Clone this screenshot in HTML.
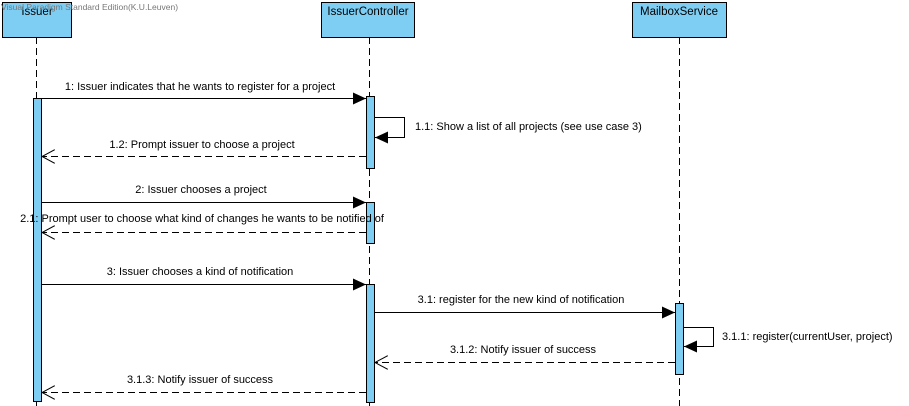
<!DOCTYPE html>
<html><head><meta charset="utf-8"><style>
html,body{margin:0;padding:0;background:#fff;}
svg{display:block;font-family:"Liberation Sans",Arial,sans-serif;font-size:11px;}
</style></head><body>
<svg width="909" height="406" viewBox="0 0 909 406" xmlns="http://www.w3.org/2000/svg">
<defs>
<marker id="f" markerWidth="14" markerHeight="12" refX="13" refY="6" orient="auto" markerUnits="userSpaceOnUse"><path d="M0,0 L13,6 L0,12 z" fill="#000"/></marker>
<marker id="o" markerWidth="14" markerHeight="14" refX="13" refY="7" orient="auto" markerUnits="userSpaceOnUse"><path d="M0,0 L13,7 L0,14" fill="none" stroke="#000" stroke-width="1"/></marker>
</defs>
<g stroke="#000" stroke-width="1" stroke-dasharray="7,4">
<line x1="36.5" y1="37" x2="36.5" y2="406"/>
<line x1="369.5" y1="37" x2="369.5" y2="406"/>
<line x1="679.5" y1="37" x2="679.5" y2="406"/>
</g>
<g fill="#7ecef4" stroke="#000" stroke-width="1">
<rect x="2.5" y="2.5" width="69" height="35"/>
<rect x="321.5" y="2.5" width="93" height="35"/>
<rect x="632.5" y="2.5" width="94" height="35"/>
<rect x="33.5" y="98.5" width="8" height="303"/>
<rect x="366.5" y="96.5" width="8" height="72"/>
<rect x="366.5" y="202.5" width="8" height="41"/>
<rect x="366.5" y="284.5" width="8" height="118"/>
<rect x="675.5" y="303.5" width="8" height="71"/>
</g>
<g fill="#000" text-anchor="middle" font-size="11.5">
<text x="37" y="15">Issuer</text>
<text x="368" y="15">IssuerController</text>
<text x="679" y="15">MailboxService</text>
</g>
<text x="1" y="10" font-size="8.5" fill="#777">Visual Paradigm Standard Edition(K.U.Leuven)</text>
<g stroke="#000" stroke-width="1" fill="none">
<line x1="41" y1="98.5" x2="366" y2="98.5" marker-end="url(#f)"/>
<polyline points="374,117.5 404.5,117.5 404.5,137.5 375,137.5" marker-end="url(#f)"/>
<line x1="366" y1="156.5" x2="42" y2="156.5" stroke-dasharray="7,4" marker-end="url(#o)"/>
<line x1="41" y1="202.5" x2="366" y2="202.5" marker-end="url(#f)"/>
<line x1="366" y1="232.5" x2="42" y2="232.5" stroke-dasharray="7,4" marker-end="url(#o)"/>
<line x1="41" y1="284.5" x2="366" y2="284.5" marker-end="url(#f)"/>
<line x1="374" y1="312.5" x2="675" y2="312.5" marker-end="url(#f)"/>
<polyline points="683,327.5 713.5,327.5 713.5,346.5 684,346.5" marker-end="url(#f)"/>
<line x1="675" y1="362.5" x2="375" y2="362.5" stroke-dasharray="7,4" marker-end="url(#o)"/>
<line x1="366" y1="392.5" x2="42" y2="392.5" stroke-dasharray="7,4" marker-end="url(#o)"/>
</g>
<g fill="#000">
<text x="200" y="90" text-anchor="middle">1: Issuer indicates that he wants to register for a project</text>
<text x="415" y="130">1.1: Show a list of all projects (see use case 3)</text>
<text x="202" y="148" text-anchor="middle">1.2: Prompt issuer to choose a project</text>
<text x="201" y="193" text-anchor="middle">2: Issuer chooses a project</text>
<text x="202" y="222" text-anchor="middle">2.1: Prompt user to choose what kind of changes he wants to be notified of</text>
<text x="200" y="275" text-anchor="middle">3: Issuer chooses a kind of notification</text>
<text x="521" y="303" text-anchor="middle">3.1: register for the new kind of notification</text>
<text x="722" y="340">3.1.1: register(currentUser, project)</text>
<text x="523" y="353" text-anchor="middle">3.1.2: Notify issuer of success</text>
<text x="200" y="383" text-anchor="middle">3.1.3: Notify issuer of success</text>
</g>
</svg>
</body></html>
